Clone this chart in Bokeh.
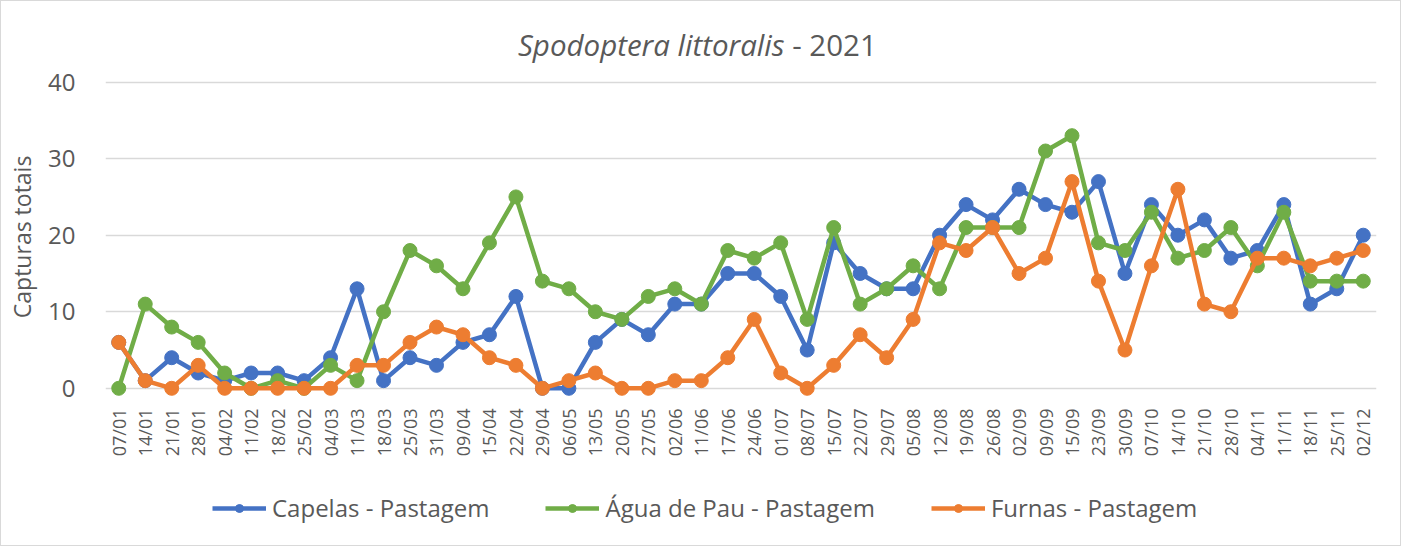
import math
from bokeh.plotting import figure
from bokeh.layouts import column
from bokeh.models import (Range1d, FixedTicker, Legend, LegendItem, Label)
from bokeh.embed import file_html
from bokeh.resources import INLINE

dates = ["07/01", "14/01", "21/01", "28/01", "04/02", "11/02", "18/02", "25/02",
         "04/03", "11/03", "18/03", "25/03", "31/03", "09/04", "15/04", "22/04",
         "29/04", "06/05", "13/05", "20/05", "27/05", "02/06", "11/06", "17/06",
         "24/06", "01/07", "08/07", "15/07", "22/07", "29/07", "05/08", "12/08",
         "19/08", "26/08", "02/09", "09/09", "15/09", "23/09", "30/09", "07/10",
         "14/10", "21/10", "28/10", "04/11", "11/11", "18/11", "25/11", "02/12"]

capelas = [6, 1, 4, 2, 1, 2, 2, 1, 4, 13, 1, 4, 3, 6, 7, 12,
           0, 0, 6, 9, 7, 11, 11, 15, 15, 12, 5, 19, 15, 13, 13, 20,
           24, 22, 26, 24, 23, 27, 15, 24, 20, 22, 17, 18, 24, 11, 13, 20]

agua_de_pau = [0, 11, 8, 6, 2, 0, 1, 0, 3, 1, 10, 18, 16, 13, 19, 25,
               14, 13, 10, 9, 12, 13, 11, 18, 17, 19, 9, 21, 11, 13, 16, 13,
               21, 21, 21, 31, 33, 19, 18, 23, 17, 18, 21, 16, 23, 14, 14, 14]

furnas = [6, 1, 0, 3, 0, 0, 0, 0, 0, 3, 3, 6, 8, 7, 4, 3,
          0, 1, 2, 0, 0, 1, 1, 4, 9, 2, 0, 3, 7, 4, 9, 19,
          18, 21, 15, 17, 27, 14, 5, 16, 26, 11, 10, 17, 17, 16, 17, 18]

series = [
    ("Capelas - Pastagem", capelas, "#4472C4"),
    ("Água de Pau - Pastagem", agua_de_pau, "#70AD47"),
    ("Furnas - Pastagem", furnas, "#ED7D31"),
]

y_ticks = [0, 10, 20, 30, 40]
title_italic = "Spodoptera littoralis"
title_rest = "\u00a0- 2021"
y_label = "Capturas totais"

TXT = "#595959"
FONT = "Open Sans"

p = figure(width=1399, height=460, x_range=dates, y_range=Range1d(-1.2, 47.0),
           output_backend="svg", toolbar_location=None,
           min_border_left=104, min_border_right=24, min_border_top=27,
           min_border_bottom=64)
p.x_range.range_padding = 0
p.outline_line_color = None

p.xgrid.grid_line_color = None
p.ygrid.grid_line_color = "#D9D9D9"
p.ygrid.grid_line_width = 1.3
p.yaxis.ticker = FixedTicker(ticks=y_ticks)

for ax in (p.xaxis[0], p.yaxis[0]):
    ax.axis_line_color = None
    ax.major_tick_line_color = None
    ax.minor_tick_line_color = None
    ax.major_label_text_color = TXT
    ax.major_label_text_font = FONT

p.yaxis.major_label_text_font_size = "24px"
p.yaxis.major_label_standoff = 24
p.yaxis.axis_label = y_label + "\u00a0" * 8
p.yaxis.axis_label_text_font = FONT
p.yaxis.axis_label_text_font_style = "normal"
p.yaxis.axis_label_text_font_size = "23px"
p.yaxis.axis_label_text_color = TXT
p.yaxis.axis_label_standoff = 7

p.xaxis.major_label_orientation = math.pi / 2
p.xaxis.major_label_text_font_size = "18px"
p.xaxis.major_label_standoff = 5

for name, vals, col in series:
    p.line(dates, vals, line_color=col, line_width=4.5)
    p.scatter(dates, vals, size=14, fill_color=col, line_color=col)

x_split = (783 - 104) / 26.48
p.add_layout(Label(x=x_split, y=44.95, text=title_italic, text_align="right",
                   text_baseline="alphabetic", text_font=FONT,
                   text_font_style="italic", text_font_size="29.5px",
                   text_color=TXT))
p.add_layout(Label(x=x_split, y=44.95, text=title_rest, text_align="left",
                   text_baseline="alphabetic", text_font=FONT,
                   text_font_size="29.5px", text_color=TXT))

# legend strip below the chart (series drawn far outside its visible y range)
q = figure(width=1399, height=84, x_range=dates, y_range=Range1d(100, 101),
           output_backend="svg", toolbar_location=None, min_border=0,
           x_axis_location=None, y_axis_location=None)
q.grid.visible = False
q.outline_line_color = None
items = []
for name, vals, col in series:
    r1 = q.line(dates, vals, line_color=col, line_width=4.5)
    r2 = q.scatter(dates, vals, size=10, fill_color=col, line_color=col)
    items.append(LegendItem(label=name, renderers=[r1, r2]))
legend = Legend(items=items, orientation="horizontal", location=(107, 21),
                glyph_width=54, glyph_height=20, label_standoff=6, spacing=56,
                padding=0, margin=0, border_line_alpha=0,
                background_fill_alpha=0,
                label_text_font=FONT, label_text_font_size="24px",
                label_text_color=TXT)
q.add_layout(legend)

layout = column(p, q, spacing=0)
layout.styles = {"border": "1px solid #D9D9D9"}

open("out.html", "w").write(file_html(layout, INLINE))
